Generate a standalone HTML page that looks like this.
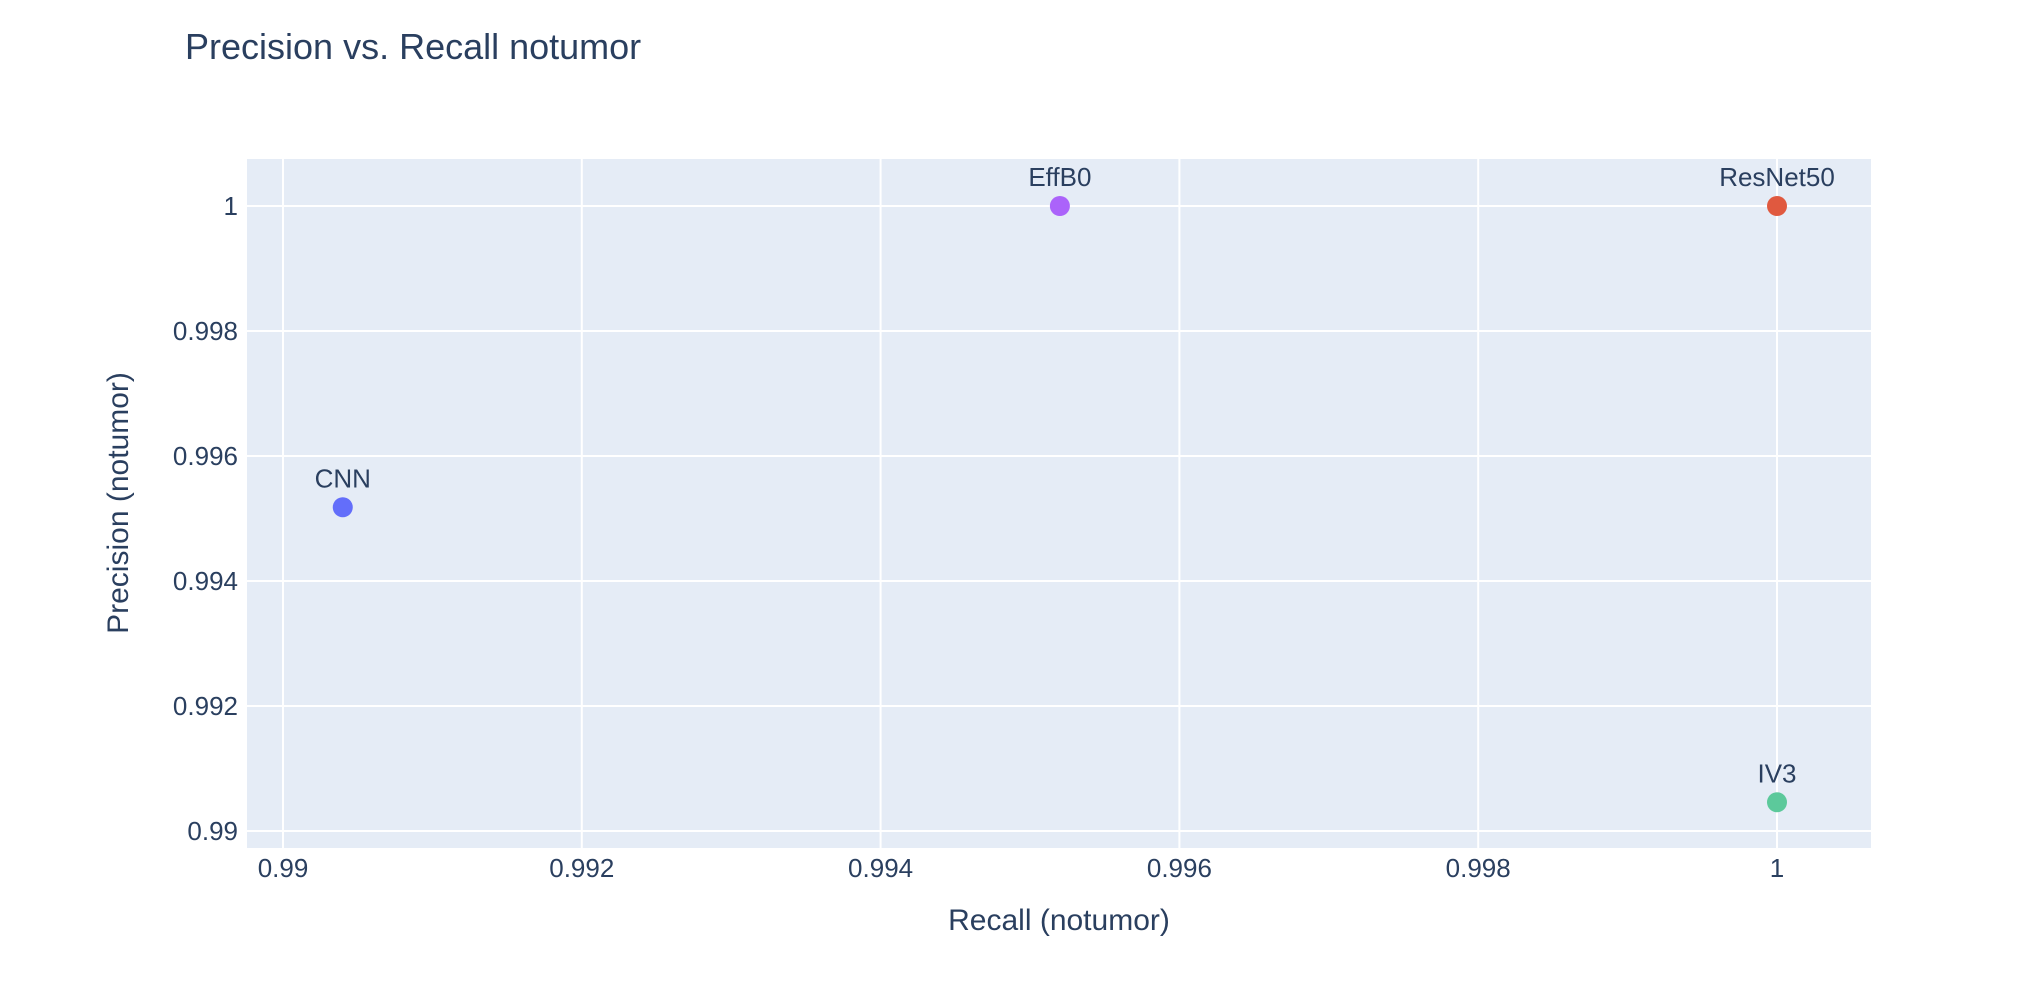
<!DOCTYPE html>
<html><head><meta charset="utf-8"><style>
body{margin:0;background:#fff;}
svg{display:block;font-family:"Liberation Sans",sans-serif;}
</style></head><body>
<svg id="chart" width="2038" height="983">
<text x="185" y="59" font-size="36" fill="#2a3f5f">Precision vs. Recall notumor</text>
<rect x="247" y="159" width="1624" height="689" fill="#e5ecf6"/>
<g id="grid"></g>
<g id="ticks"></g>
<g id="marks"></g>
<text x="1059" y="930" font-size="30" fill="#2a3f5f" text-anchor="middle">Recall (notumor)</text>
<text transform="translate(128,503) rotate(-90)" font-size="30" fill="#2a3f5f" text-anchor="middle">Precision (notumor)</text>
</svg>
<script>
const models = ["CNN","EffB0","ResNet50","IV3"];
const recall = [0.9904,0.9952,1.0,1.0];
const precision = [0.99518,1.0,1.0,0.99046];
const colors = ["#636efa","#ab63fa","#e0593f","#5cc99b"];
const xTicks = [0.99,0.992,0.994,0.996,0.998,1];
const xTickLabels = ["0.99","0.992","0.994","0.996","0.998","1"];
const yTicks = [0.99,0.992,0.994,0.996,0.998,1];
const yTickLabels = ["0.99","0.992","0.994","0.996","0.998","1"];

const NS="http://www.w3.org/2000/svg";
const x = v => 283 + (v-0.99)/0.01*1494;
const y = v => 206 + (1-v)/0.01*625;
function mk(tag, attrs, parent){const e=document.createElementNS(NS,tag);for(const k in attrs)e.setAttribute(k,attrs[k]);document.getElementById(parent).appendChild(e);return e;}

xTicks.forEach((t,i)=>{
  const l=mk("line",{x1:x(t),x2:x(t),y1:159,y2:848,stroke:"#fff","stroke-width":2},"grid");
  
  
  const tx=mk("text",{x:x(t),y:877,"font-size":26,fill:"#2a3f5f","text-anchor":"middle"},"ticks");
  tx.textContent=xTickLabels[i];
  
  
});
yTicks.forEach((t,i)=>{
  const l=mk("line",{x1:247,x2:1871,y1:y(t),y2:y(t),stroke:"#fff","stroke-width":2},"grid");
  
  
  const tx=mk("text",{x:238,y:y(t)+9,"font-size":26,fill:"#2a3f5f","text-anchor":"end"},"ticks");
  tx.textContent=yTickLabels[i];
  
  
});
models.forEach((m,i)=>{
  const c=mk("circle",{cx:x(recall[i]),cy:y(precision[i]),r:10,fill:colors[i]},"marks");
  
  
  const t=mk("text",{x:x(recall[i]),y:y(precision[i])-20,"font-size":26,fill:"#2a3f5f","text-anchor":"middle"},"marks");
  t.textContent=m;
  
  
});
</script>
</body></html>
